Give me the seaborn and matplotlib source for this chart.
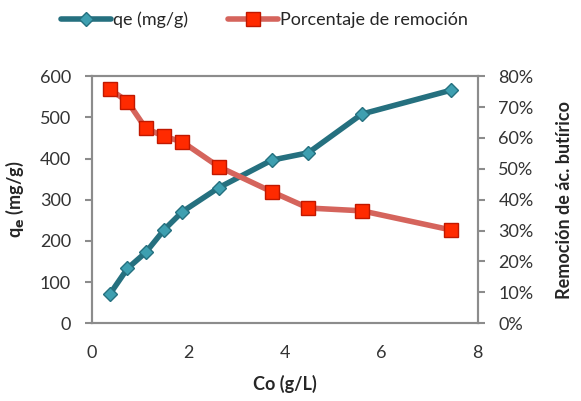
import matplotlib
matplotlib.use("Agg")
import matplotlib.pyplot as plt
import seaborn as sns
import pandas as pd
from matplotlib.ticker import PercentFormatter, MultipleLocator

sns.set_theme(style="white")
plt.rcParams['font.family'] = ['Lato', 'DejaVu Sans']

# Initial concentration (g/L)
co = [0.37, 0.74, 1.12, 1.50, 1.88, 2.63, 3.73, 4.49, 5.60, 7.45]
# Adsorption capacity qe (mg/g)
qe = [70, 133, 172, 227, 271, 329, 396, 414, 508, 566]
# Removal percentage (%)
remocion = [75.8, 71.8, 63.1, 60.5, 58.7, 50.7, 42.6, 37.3, 36.4, 30.2]

df = pd.DataFrame({"Co": co, "qe": qe, "rem": remocion})

teal = "#25707F"
teal_mk = "#3E9FB0"
salmon = "#D5645C"
red_mk = "#FF2A00"
grey = "#8C8C8C"

fig = plt.figure(figsize=(5.81, 4.01), dpi=100)
ax = fig.add_axes([0.158, 0.194, 0.664, 0.616])
ax2 = ax.twinx()

sns.lineplot(data=df, x="Co", y="qe", ax=ax, color=teal, linewidth=4,
             marker="D", markersize=7, markerfacecolor=teal_mk,
             markeredgecolor=teal, markeredgewidth=1, label="qe (mg/g)",
             legend=False, zorder=3)
sns.lineplot(data=df, x="Co", y="rem", ax=ax2, color=salmon, linewidth=4,
             marker="s", markersize=9.5, markerfacecolor=red_mk,
             markeredgecolor="#C01800", markeredgewidth=1,
             label="Porcentaje de remoción", legend=False, zorder=3)

ax.set_xlim(0, 8)
ax.set_ylim(0, 600)
ax2.set_ylim(0, 80)
ax.xaxis.set_major_locator(MultipleLocator(2))
ax.yaxis.set_major_locator(MultipleLocator(100))
ax2.yaxis.set_major_locator(MultipleLocator(10))
ax2.yaxis.set_major_formatter(PercentFormatter(decimals=0))

for a in (ax, ax2):
    for s in a.spines.values():
        s.set_color(grey)
        s.set_linewidth(1.5)
    a.grid(False)

ax.tick_params(axis="x", direction="inout", length=8, width=1.5, color=grey,
               labelsize=13, labelcolor="#333333", pad=12)
ax.tick_params(axis="y", direction="out", length=5, width=1.5, color=grey,
               labelsize=13, labelcolor="#333333", pad=10)
ax2.tick_params(axis="y", direction="out", length=5, width=1.5, color=grey,
                labelsize=13, labelcolor="#333333", pad=10)

ax.set_xlabel("Co (g/L)", fontsize=13, fontweight="bold", labelpad=10)
ax.set_ylabel(r"q$_\mathbf{e}$ (mg/g)", fontsize=13, fontweight="bold", labelpad=10)
ax2.set_ylabel("Remoción de ác. butírico", fontsize=13, fontweight="bold", labelpad=16)

h1, l1 = ax.get_legend_handles_labels()
h2, l2 = ax2.get_legend_handles_labels()
fig.legend(h1 + h2, l1 + l2, loc="center", bbox_to_anchor=(0.455, 0.95),
           ncol=2, frameon=False, fontsize=13, handlelength=2.8,
           handletextpad=0.1, columnspacing=2.2)

fig.savefig("out.png", dpi=100)
